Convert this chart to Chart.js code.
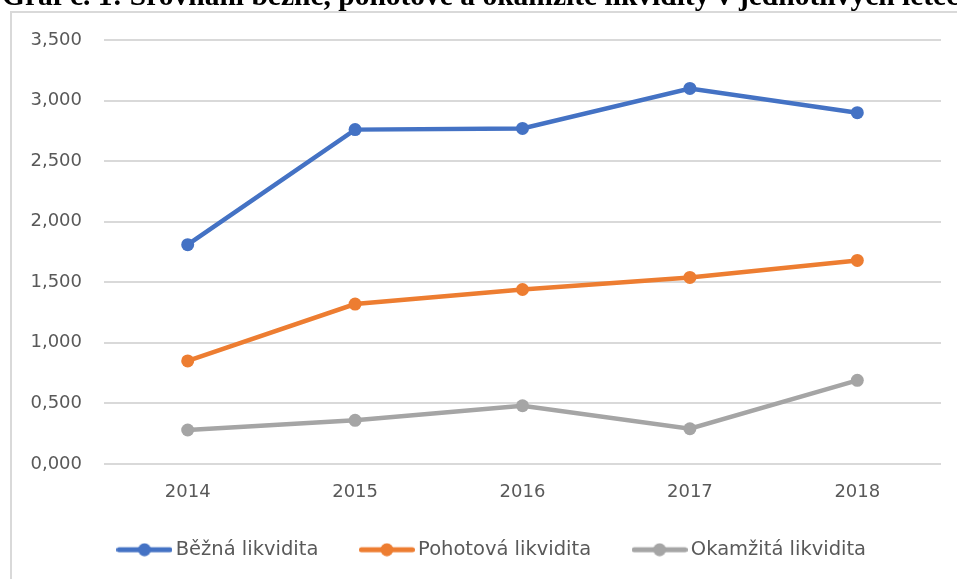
<!DOCTYPE html>
<html>
<head>
<meta charset="utf-8">
<script src="https://cdn.jsdelivr.net/npm/chart.js@4/dist/chart.umd.min.js"></script>
<style>
  body { margin: 0; background: #fff; overflow: hidden; width: 957px; height: 579px; position: relative; }
  #title { position: absolute; left: 2px; top: -21px; white-space: nowrap; line-height: 1;
    font: bold 29.5px "Liberation Serif", "Times New Roman", serif; color: #000; z-index: 2; }
  #box { position: absolute; left: 10px; top: 11px; width: 970px; height: 600px;
    border: 2px solid #d9d9d9; box-sizing: border-box; }
  #chart { position: absolute; left: 0; top: 0; z-index: 1; }
</style>
</head>
<body>
<div id="title">Graf č. 1: Srovnání běžné, pohotové a okamžité likvidity v jednotlivých letech</div>
<div id="box"></div>
<canvas id="chart" width="957" height="626"></canvas>
<script>
const years = ["2014", "2015", "2016", "2017", "2018"];
const seriesNames = ["Běžná likvidita", "Pohotová likvidita", "Okamžitá likvidita"];
const bezna = [1.81, 2.76, 2.77, 3.10, 2.90];
const pohotova = [0.85, 1.32, 1.44, 1.54, 1.68];
const okamzita = [0.28, 0.36, 0.48, 0.29, 0.69];
const colors = ["#4472C4", "#ED7D31", "#A5A5A5"];

const FONT = "'DejaVu Sans', sans-serif";
const TEXT_COLOR = "#595959";
const LEGEND_TOP = 493;
const LEGEND_DX = 14;

// legend marker: short line with a dot in the middle
function legendMarker(color) {
  const c = document.createElement("canvas");
  c.width = 56; c.height = 14;
  const g = c.getContext("2d");
  g.strokeStyle = color; g.lineWidth = 5; g.lineCap = "round";
  g.beginPath(); g.moveTo(2.5, 7); g.lineTo(53.5, 7); g.stroke();
  g.fillStyle = color;
  g.beginPath(); g.arc(28, 7, 6.5, 0, Math.PI * 2); g.fill();
  return c;
}

// move legend to where the original sits (it overlaps the x axis box)
const legendShift = {
  id: "legendShift",
  afterLayout(chart) {
    const lg = chart.legend;
    const dy = LEGEND_TOP - lg.top;
    lg.top += dy; lg.bottom += dy;
    lg.left += LEGEND_DX; lg.right += LEGEND_DX;
  },
};

const fmt = (v) => v.toFixed(3).replace(".", ",");

const makeSet = (label, data, color) => ({
  label: label,
  data: data,
  borderColor: color,
  backgroundColor: color,
  borderWidth: 4.5,
  pointRadius: 6.5,
  pointHoverRadius: 6.5,
  pointBorderWidth: 0,
  tension: 0,
});

const ctx = document.getElementById("chart").getContext("2d");
new Chart(ctx, {
  type: "line",
  data: {
    labels: years,
    datasets: [
      makeSet(seriesNames[0], bezna, colors[0]),
      makeSet(seriesNames[1], pohotova, colors[1]),
      makeSet(seriesNames[2], okamzita, colors[2]),
    ],
  },
  options: {
    responsive: false,
    animation: false,
    layout: { padding: { left: 20, right: 16, top: 40, bottom: 28 } },
    plugins: {
      tooltip: { enabled: false },
      legend: {
        position: "bottom",
        labels: {
          usePointStyle: true,
          pointStyleWidth: 43,
          padding: 47,
          color: TEXT_COLOR,
          font: { family: FONT, size: 19.5 },
          generateLabels: (chart) =>
            chart.data.datasets.map((ds, i) => ({
              text: ds.label,
              fillStyle: ds.borderColor,
              strokeStyle: ds.borderColor,
              fontColor: TEXT_COLOR,
              lineWidth: 0,
              pointStyle: legendMarker(ds.borderColor),
              datasetIndex: i,
              hidden: false,
            })),
        },
      },
    },
    scales: {
      x: {
        offset: true,
        grid: { display: false, drawTicks: false },
        border: { display: false },
        ticks: {
          color: TEXT_COLOR,
          padding: 18,
          font: { family: FONT, size: 18 },
        },
      },
      y: {
        min: 0,
        max: 3.5,
        afterFit: (scale) => { scale.width = 84; },
        grid: { color: "#d9d9d9", lineWidth: 2, drawTicks: false },
        border: { display: false },
        ticks: {
          stepSize: 0.5,
          padding: 22,
          color: TEXT_COLOR,
          font: { family: FONT, size: 18 },
          callback: (v) => fmt(v),
        },
      },
    },
  },
  plugins: [legendShift],
});
</script>
</body>
</html>
